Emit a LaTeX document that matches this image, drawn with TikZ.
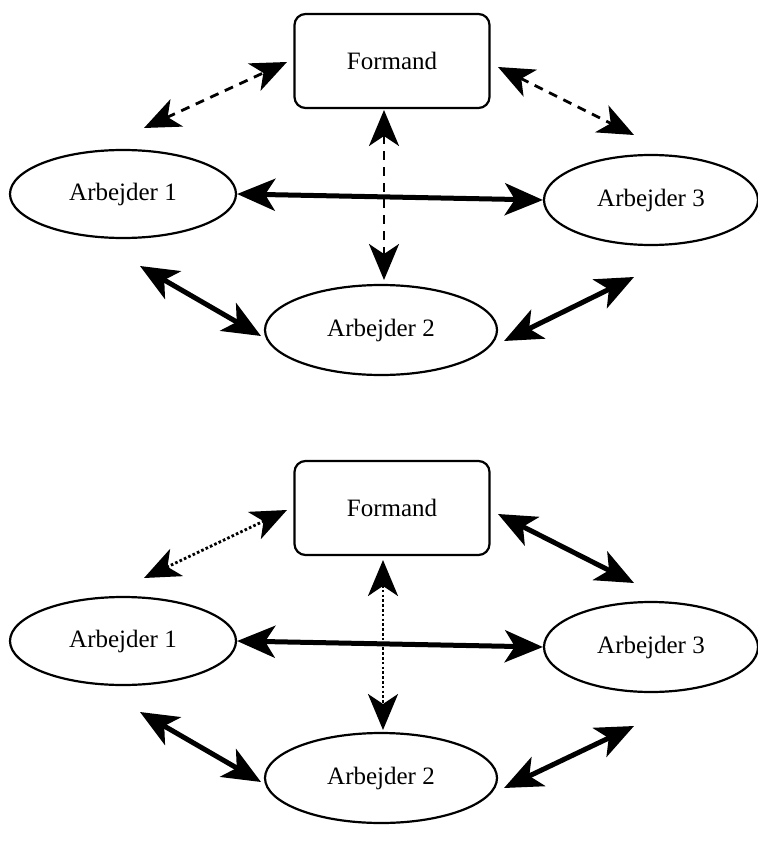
\documentclass[tikz,border=0pt]{standalone}
\usepackage{fontspec}
\setmainfont{Liberation Serif}
\usetikzlibrary{arrows.meta,shapes.geometric}
\begin{document}
\begin{tikzpicture}[x=1pt,y=-1pt,
  boss/.style={draw,line width=2.2pt,rounded corners=11pt,minimum width=195pt,minimum height=94pt,font=\fontsize{25}{30}\selectfont},
  worker/.style={draw,ellipse,line width=2.2pt,font=\fontsize{25}{30}\selectfont,inner sep=0pt},
  strong/.style={line width=5pt,{Stealth[length=38pt,width=32pt,inset=10pt]}-{Stealth[length=38pt,width=32pt,inset=10pt]}},
  weakdash/.style={line width=2.8pt,dash pattern=on 9pt off 7pt,{Stealth[length=36pt,width=30pt,inset=10pt]}-{Stealth[length=36pt,width=30pt,inset=10pt]}},
  weakdot/.style={line width=2.8pt,dash pattern=on 2.6pt off 2.2pt,{Stealth[length=36pt,width=30pt,inset=10pt]}-{Stealth[length=36pt,width=30pt,inset=10pt]}}
]
\useasboundingbox (0,0) rectangle (757,845);
% ---------- top diagram ----------
\node[boss] (f1) at (392,61) {Formand};
\node[worker,minimum width=226pt,minimum height=88pt] (a11) at (123,194) {Arbejder 1};
\node[worker,minimum width=214pt,minimum height=90pt] (a13) at (651,200) {Arbejder 3};
\node[worker,minimum width=232pt,minimum height=90pt] (a12) at (381,330) {Arbejder 2};
\coordinate (t1a) at (144,128); \coordinate (t1b) at (287,62);
\coordinate (t2a) at (498,67); \coordinate (t2b) at (634,135);
\coordinate (t3a) at (384,110); \coordinate (t3b) at (384,280);
\coordinate (t4a) at (140,266); \coordinate (t4b) at (261,336);
\coordinate (t5a) at (504,341); \coordinate (t5b) at (634,277);
\draw[weakdash] (t1a) -- (t1b);
\draw[weakdash] (t2a) -- (t2b);
\draw[weakdash] (t3a) -- (t3b);
\draw[strong] (a11.east) -- (a13.west);
\draw[strong] (t4a) -- (t4b);
\draw[strong] (t5a) -- (t5b);
% ---------- bottom diagram ----------
\node[boss] (f2) at (392,508) {Formand};
\node[worker,minimum width=226pt,minimum height=88pt] (a21) at (123,641) {Arbejder 1};
\node[worker,minimum width=214pt,minimum height=90pt] (a23) at (651,647) {Arbejder 3};
\node[worker,minimum width=232pt,minimum height=90pt] (a22) at (381,778) {Arbejder 2};
\coordinate (b1a) at (144,578); \coordinate (b1b) at (287,510);
\coordinate (b2a) at (498,514); \coordinate (b2b) at (634,583);
\coordinate (b3a) at (383,560); \coordinate (b3b) at (383,730);
\coordinate (b4a) at (140,712); \coordinate (b4b) at (261,782);
\coordinate (b5a) at (504,788); \coordinate (b5b) at (634,726);
\draw[weakdot] (b1a) -- (b1b);
\draw[strong] (b2a) -- (b2b);
\draw[weakdot] (b3a) -- (b3b);
\draw[strong] (a21.east) -- (a23.west);
\draw[strong] (b4a) -- (b4b);
\draw[strong] (b5a) -- (b5b);
\end{tikzpicture}
\end{document}
